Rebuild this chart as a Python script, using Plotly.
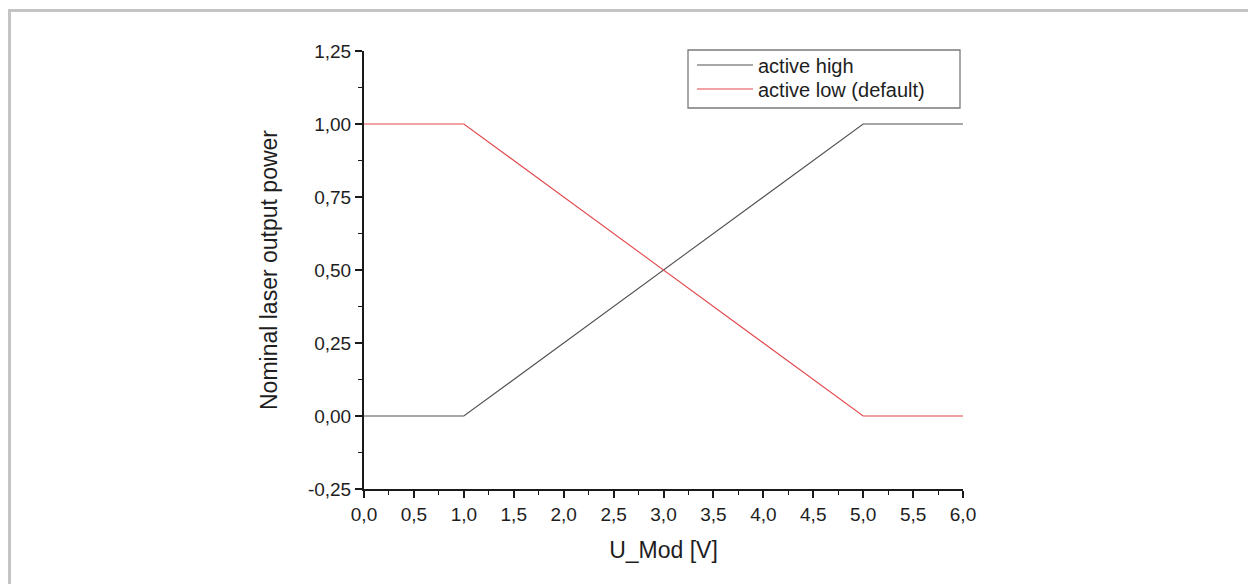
import plotly.graph_objects as go

# Data
u_mod = [0.0, 1.0, 5.0, 6.0]
active_high = [0.0, 0.0, 1.0, 1.0]
active_low = [1.0, 1.0, 0.0, 0.0]
series_names = ["active high", "active low (default)"]

x_tick_vals = [0.0, 0.5, 1.0, 1.5, 2.0, 2.5, 3.0, 3.5, 4.0, 4.5, 5.0, 5.5, 6.0]
x_tick_text = ["0,0", "0,5", "1,0", "1,5", "2,0", "2,5", "3,0", "3,5", "4,0", "4,5", "5,0", "5,5", "6,0"]
y_tick_vals = [-0.25, 0.0, 0.25, 0.5, 0.75, 1.0, 1.25]
y_tick_text = ["-0,25", "0,00", "0,25", "0,50", "0,75", "1,00", "1,25"]

# The page body adds an 8px margin; figure coordinates below are page - 8.
W, H = 1256, 584
L, R, T, B = 356, 955, 43, 481  # plot area in figure pixels

pw, ph = R - L, B - T
def px(x):
    return (x - L) / pw
def py(y):
    return (B - y) / ph

font_family = "Liberation Sans, Arial, sans-serif"
txt = "#1e1e1e"

fig = go.Figure()
fig.add_trace(go.Scatter(x=u_mod, y=active_high, mode="lines", name=series_names[0],
                         line=dict(color="#505050", width=1.1), legend="legend"))
fig.add_trace(go.Scatter(x=u_mod, y=active_low, mode="lines", name=series_names[1],
                         line=dict(color="#e2474b", width=1.1), legend="legend2"))

leg_common = dict(xanchor="left", yanchor="middle", bgcolor="rgba(0,0,0,0)",
                  borderwidth=0, font=dict(size=20, color=txt), itemwidth=56)

fig.update_layout(
    width=W, height=H,
    margin=dict(l=L, r=W - R, t=T, b=H - B, autoexpand=False),
    paper_bgcolor="white", plot_bgcolor="white",
    font=dict(family=font_family, color=txt, size=19),
    showlegend=True,
    legend=dict(x=px(684), y=py(57), **leg_common),
    legend2=dict(x=px(684), y=py(81), **leg_common),
    shapes=[
        dict(type="rect", xref="paper", yref="paper",
             x0=px(1.5), x1=px(1242), y0=py(610), y1=py(2.5),
             line=dict(color="#c4c4c4", width=3), fillcolor="rgba(0,0,0,0)",
             layer="below"),
        dict(type="rect", xref="paper", yref="paper",
             x0=px(680), x1=px(952), y0=py(100), y1=py(42),
             line=dict(color="#7a7a7a", width=1.3), fillcolor="white",
             layer="above"),
    ],
)

fig.update_xaxes(
    range=[0, 6], tickmode="array", tickvals=x_tick_vals, ticktext=x_tick_text,
    showgrid=False, zeroline=False,
    showline=True, linecolor="#1a1a1a", linewidth=2,
    ticks="outside", ticklen=7, tickwidth=1.6, tickcolor="#1a1a1a",
    minor=dict(ticks="outside", ticklen=4, tickwidth=1.4, tickcolor="#1a1a1a",
               tickmode="linear", tick0=0, dtick=0.25, showgrid=False),
    tickfont=dict(size=19, color=txt),
    title=dict(text="U_Mod [V]", font=dict(size=23, color=txt), standoff=18),
)
fig.update_yaxes(
    range=[-0.25, 1.25], tickmode="array", tickvals=y_tick_vals, ticktext=y_tick_text,
    showgrid=False, zeroline=False,
    showline=True, linecolor="#1a1a1a", linewidth=2,
    ticks="outside", ticklen=7, tickwidth=1.6, tickcolor="#1a1a1a",
    minor=dict(ticks="outside", ticklen=4, tickwidth=1.4, tickcolor="#1a1a1a",
               tickmode="linear", tick0=-0.25, dtick=0.125, showgrid=False),
    tickfont=dict(size=19, color=txt),
    title=dict(text="Nominal laser output power", font=dict(size=23, color=txt), standoff=24),
)

fig.write_html("out.html")
